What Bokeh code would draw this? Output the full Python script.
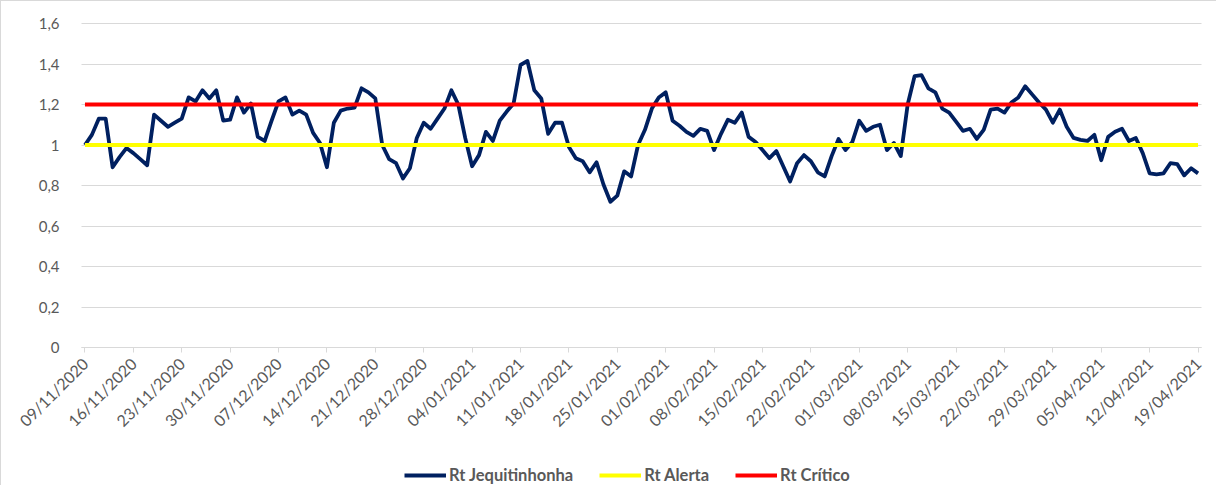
import pandas as pd
from bokeh.plotting import figure
from bokeh.models import Range1d, FixedTicker, Legend, LegendItem
from bokeh.embed import file_html
from bokeh.resources import INLINE
from math import pi

# ---- data ----
dates = pd.date_range("2020-11-09", "2021-04-19", freq="D")
date_labels = [d.strftime("%d/%m/%Y") for d in dates]

rt_jequitinhonha = [
    1.00, 1.05, 1.13, 1.13, 0.89, 0.94, 0.985, 0.96, 0.93, 0.90,
    1.15, 1.12, 1.09, 1.11, 1.13, 1.235, 1.215, 1.27, 1.23, 1.27,
    1.12, 1.125, 1.235, 1.16, 1.205, 1.04, 1.02, 1.12, 1.215, 1.235,
    1.15, 1.17, 1.15, 1.06, 1.01, 0.89, 1.11, 1.17, 1.18, 1.185,
    1.28, 1.26, 1.23, 1.00, 0.93, 0.91, 0.835, 0.885, 1.035, 1.11,
    1.08, 1.13, 1.18, 1.27, 1.20, 1.035, 0.895, 0.95, 1.065, 1.02,
    1.12, 1.165, 1.205, 1.395, 1.415, 1.27, 1.23, 1.055, 1.11, 1.11,
    0.99, 0.935, 0.92, 0.865, 0.915, 0.805, 0.72, 0.75, 0.87, 0.845,
    1.00, 1.075, 1.18, 1.235, 1.26, 1.12, 1.095, 1.065, 1.045, 1.08,
    1.07, 0.975, 1.055, 1.125, 1.11, 1.16, 1.04, 1.015, 0.975, 0.935,
    0.97, 0.895, 0.82, 0.91, 0.95, 0.92, 0.865, 0.845, 0.945, 1.03,
    0.975, 1.015, 1.12, 1.07, 1.09, 1.10, 0.975, 1.01, 0.945, 1.20,
    1.34, 1.345, 1.28, 1.26, 1.18, 1.16, 1.115, 1.07, 1.08, 1.03,
    1.075, 1.175, 1.18, 1.16, 1.21, 1.235, 1.29, 1.25, 1.21, 1.175,
    1.11, 1.175, 1.09, 1.035, 1.025, 1.02, 1.05, 0.925, 1.04, 1.065,
    1.08, 1.02, 1.035, 0.96, 0.86, 0.855, 0.86, 0.91, 0.905, 0.85,
    0.885, 0.86,
]
rt_alerta_value = 1.0
rt_critico_value = 1.2

y_ticks = [0, 0.2, 0.4, 0.6, 0.8, 1, 1.2, 1.4, 1.6]
y_tick_labels = ["0", "0,2", "0,4", "0,6", "0,8", "1", "1,2", "1,4", "1,6"]

series_names = ["Rt Jequitinhonha", "Rt Alerta", "Rt Crítico"]
series_colors = ["#002060", "#FFFF00", "#FF0000"]

# ---- build ----
n = len(rt_jequitinhonha)
xs = list(range(n))
alerta = [rt_alerta_value] * n
critico = [rt_critico_value] * n

FONT = "Lato"
TXT = "#595959"
GRID = "#d9d9d9"

# Plotting area 1120 x 324 px for x in [-0.5, n-0.5], y in [0, 1.6].
# The frame is extended around it so that axes (pinned with fixed_location)
# and the legend drawn inside the frame are not clipped.
PLOT_W, PLOT_H = 1120, 324
X0, X1 = -0.5, n - 0.5
Y0, Y1 = 0.0, 1.6
px_x = PLOT_W / (X1 - X0)
px_y = PLOT_H / (Y1 - Y0)
EXT_L, EXT_R, EXT_T, EXT_B = 64, 10, 12, 138

p = figure(
    frame_width=PLOT_W + EXT_L + EXT_R, frame_height=PLOT_H + EXT_T + EXT_B,
    min_border_left=16, min_border_right=5, min_border_top=10, min_border_bottom=0,
    x_range=Range1d(X0 - EXT_L / px_x, X1 + EXT_R / px_x),
    y_range=Range1d(Y0 - EXT_B / px_y, Y1 + EXT_T / px_y),
    output_backend="svg", toolbar_location=None,
)
p.styles = {"border-left": "1px solid #d9d9d9", "border-top": "1px solid #d9d9d9"}
p.outline_line_color = None
p.background_fill_color = "white"
p.border_fill_color = "white"

r1 = p.line(xs, rt_jequitinhonha, line_color=series_colors[0], line_width=3.8, line_join="round")
r2 = p.line(xs, alerta, line_color=series_colors[1], line_width=4)
r3 = p.line(xs, critico, line_color=series_colors[2], line_width=4)

# y axis
p.yaxis.fixed_location = X0
p.yaxis.bounds = (Y0, Y1)
p.yaxis.ticker = FixedTicker(ticks=y_ticks)
p.yaxis.major_label_overrides = {t: l for t, l in zip(y_ticks, y_tick_labels)}
p.yaxis.axis_line_color = None
p.yaxis.major_tick_line_color = None
p.yaxis.minor_tick_line_color = None
p.yaxis.major_label_text_font = FONT
p.yaxis.major_label_text_font_size = "15px"
p.yaxis.major_label_text_color = TXT
p.yaxis.major_label_standoff = 16

p.ygrid.ticker = FixedTicker(ticks=y_ticks)
p.ygrid.cross_bounds = (X0, X1)
p.ygrid.grid_line_color = GRID
p.ygrid.grid_line_width = 1
p.xgrid.grid_line_color = None

# x axis
x_ticks = list(range(0, n, 7))
p.xaxis.fixed_location = Y0
p.xaxis.bounds = (X0, X1)
p.xaxis.ticker = FixedTicker(ticks=x_ticks)
p.xaxis.major_label_overrides = {i: date_labels[i] for i in x_ticks}
p.xaxis.major_label_orientation = pi / 4
p.xaxis.axis_line_color = GRID
p.xaxis.axis_line_width = 1
p.xaxis.major_tick_line_color = GRID
p.xaxis.major_tick_out = 5
p.xaxis.major_tick_in = 0
p.xaxis.minor_tick_line_color = None
p.xaxis.major_label_text_font = FONT
p.xaxis.major_label_text_font_size = "16px"
p.xaxis.major_label_text_color = TXT
p.xaxis.major_label_standoff = 8

legend = Legend(
    items=[LegendItem(label=series_names[0], renderers=[r1]),
           LegendItem(label=series_names[1], renderers=[r2]),
           LegendItem(label=series_names[2], renderers=[r3])],
    orientation="horizontal", location=(387, 0),
    border_line_color=None, background_fill_alpha=0,
    label_text_font=FONT, label_text_font_style="bold",
    label_text_color=TXT, label_text_font_size="16.5px",
    glyph_width=42, glyph_height=12, label_standoff=3, spacing=26,
    padding=1, margin=0,
)
p.add_layout(legend, "center")

open("out.html", "w").write(file_html(p, INLINE))
